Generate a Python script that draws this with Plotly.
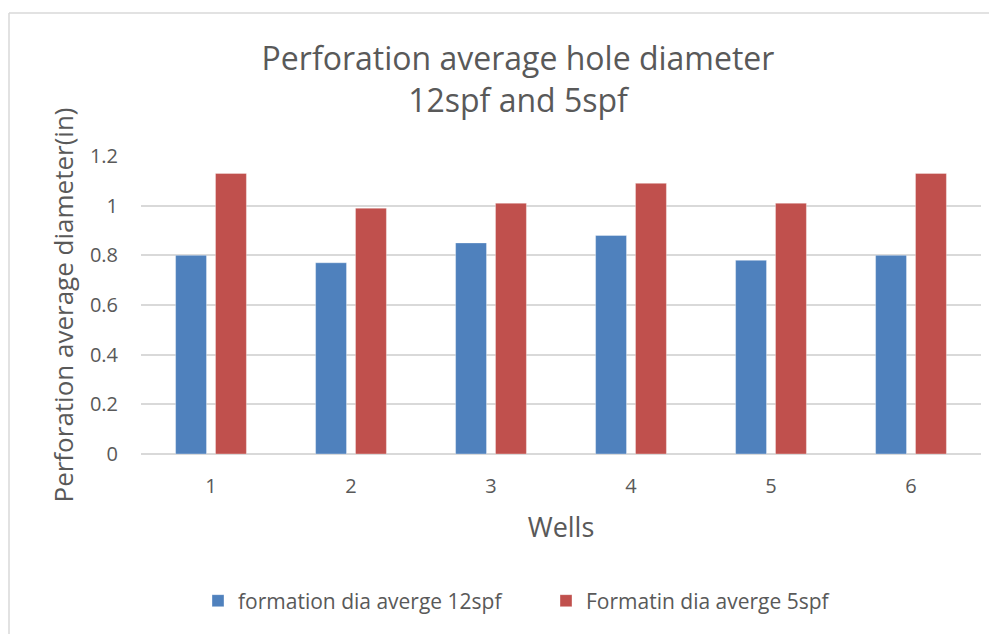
import plotly.graph_objects as go

wells = ["1", "2", "3", "4", "5", "6"]
dia_12spf = [0.80, 0.77, 0.85, 0.88, 0.78, 0.80]
dia_5spf = [1.13, 0.99, 1.01, 1.09, 1.01, 1.13]
y_ticks = [0, 0.2, 0.4, 0.6, 0.8, 1, 1.2]
y_tick_text = ["0", "0.2", "0.4", "0.6", "0.8", "1", "1.2"]

font_family = "Open Sans"
text_grey = "#595959"
border_grey = "#D9D9D9"

# the page body has an 8px margin, so the figure is sized 8px smaller
W, H = 989, 626
plot_l, plot_r, plot_t, plot_b = 133, 973, 148, 448
plot_w, plot_h = plot_r - plot_l, plot_b - plot_t


def px_x(px):
    return (px - plot_l) / plot_w


def px_y(px):
    return (plot_b - px) / plot_h


fig = go.Figure()

fig.add_trace(
    go.Bar(
        x=wells,
        y=dia_12spf,
        name="formation dia averge 12spf",
        marker=dict(color="#4F81BD", line=dict(color="rgba(255,255,255,0.35)", width=1)),
    )
)
fig.add_trace(
    go.Bar(
        x=wells,
        y=dia_5spf,
        name="Formatin dia averge 5spf",
        marker=dict(color="#C0504D", line=dict(color="rgba(255,255,255,0.35)", width=1)),
    )
)

fig.update_layout(
    width=W,
    height=H,
    margin=dict(l=plot_l, r=W - plot_r, t=plot_t, b=H - plot_b),
    paper_bgcolor="white",
    plot_bgcolor="white",
    font=dict(family=font_family, color=text_grey),
    barmode="group",
    bargap=0.43,
    bargroupgap=0.225,
    title=dict(
        text="Perforation average hole diameter<br>12spf and 5spf",
        font=dict(size=32, color=text_grey),
        x=510 / W,
        xanchor="center",
        y=1 - 62 / H,
        yanchor="middle",
    ),
    xaxis=dict(
        type="category",
        showgrid=False,
        showline=False,
        ticks="",
        tickfont=dict(size=20, color=text_grey),
        ticklabelstandoff=18,
        title=dict(text="Wells", font=dict(size=27, color=text_grey), standoff=20),
    ),
    yaxis=dict(
        range=[0, 1.2],
        tickvals=y_ticks,
        ticktext=y_tick_text,
        showgrid=True,
        gridcolor=border_grey,
        gridwidth=1.5,
        zeroline=True,
        zerolinecolor=border_grey,
        zerolinewidth=1.5,
        showline=False,
        ticks="",
        tickfont=dict(size=20, color=text_grey),
        ticklabelstandoff=22,
        title=dict(
            text="Perforation average diameter(in)",
            font=dict(size=26, color=text_grey),
            standoff=8,
        ),
    ),
    legend=dict(
        orientation="h",
        x=px_x(538),
        xanchor="center",
        y=px_y(596),
        yanchor="middle",
        font=dict(size=21, color=text_grey),
        itemwidth=30,
        entrywidth=303,
        traceorder="normal",
    ),
    shapes=[
        # chart frame: only the top and left edges show in the picture
        dict(type="line", xref="paper", yref="paper",
             x0=px_x(1), x1=px_x(W + 20), y0=px_y(4), y1=px_y(4),
             line=dict(color=border_grey, width=1.5), layer="below"),
        dict(type="line", xref="paper", yref="paper",
             x0=px_x(1), x1=px_x(1), y0=px_y(4), y1=px_y(H + 20),
             line=dict(color=border_grey, width=1.5), layer="below"),
    ],
)

fig.write_html("out.html")
